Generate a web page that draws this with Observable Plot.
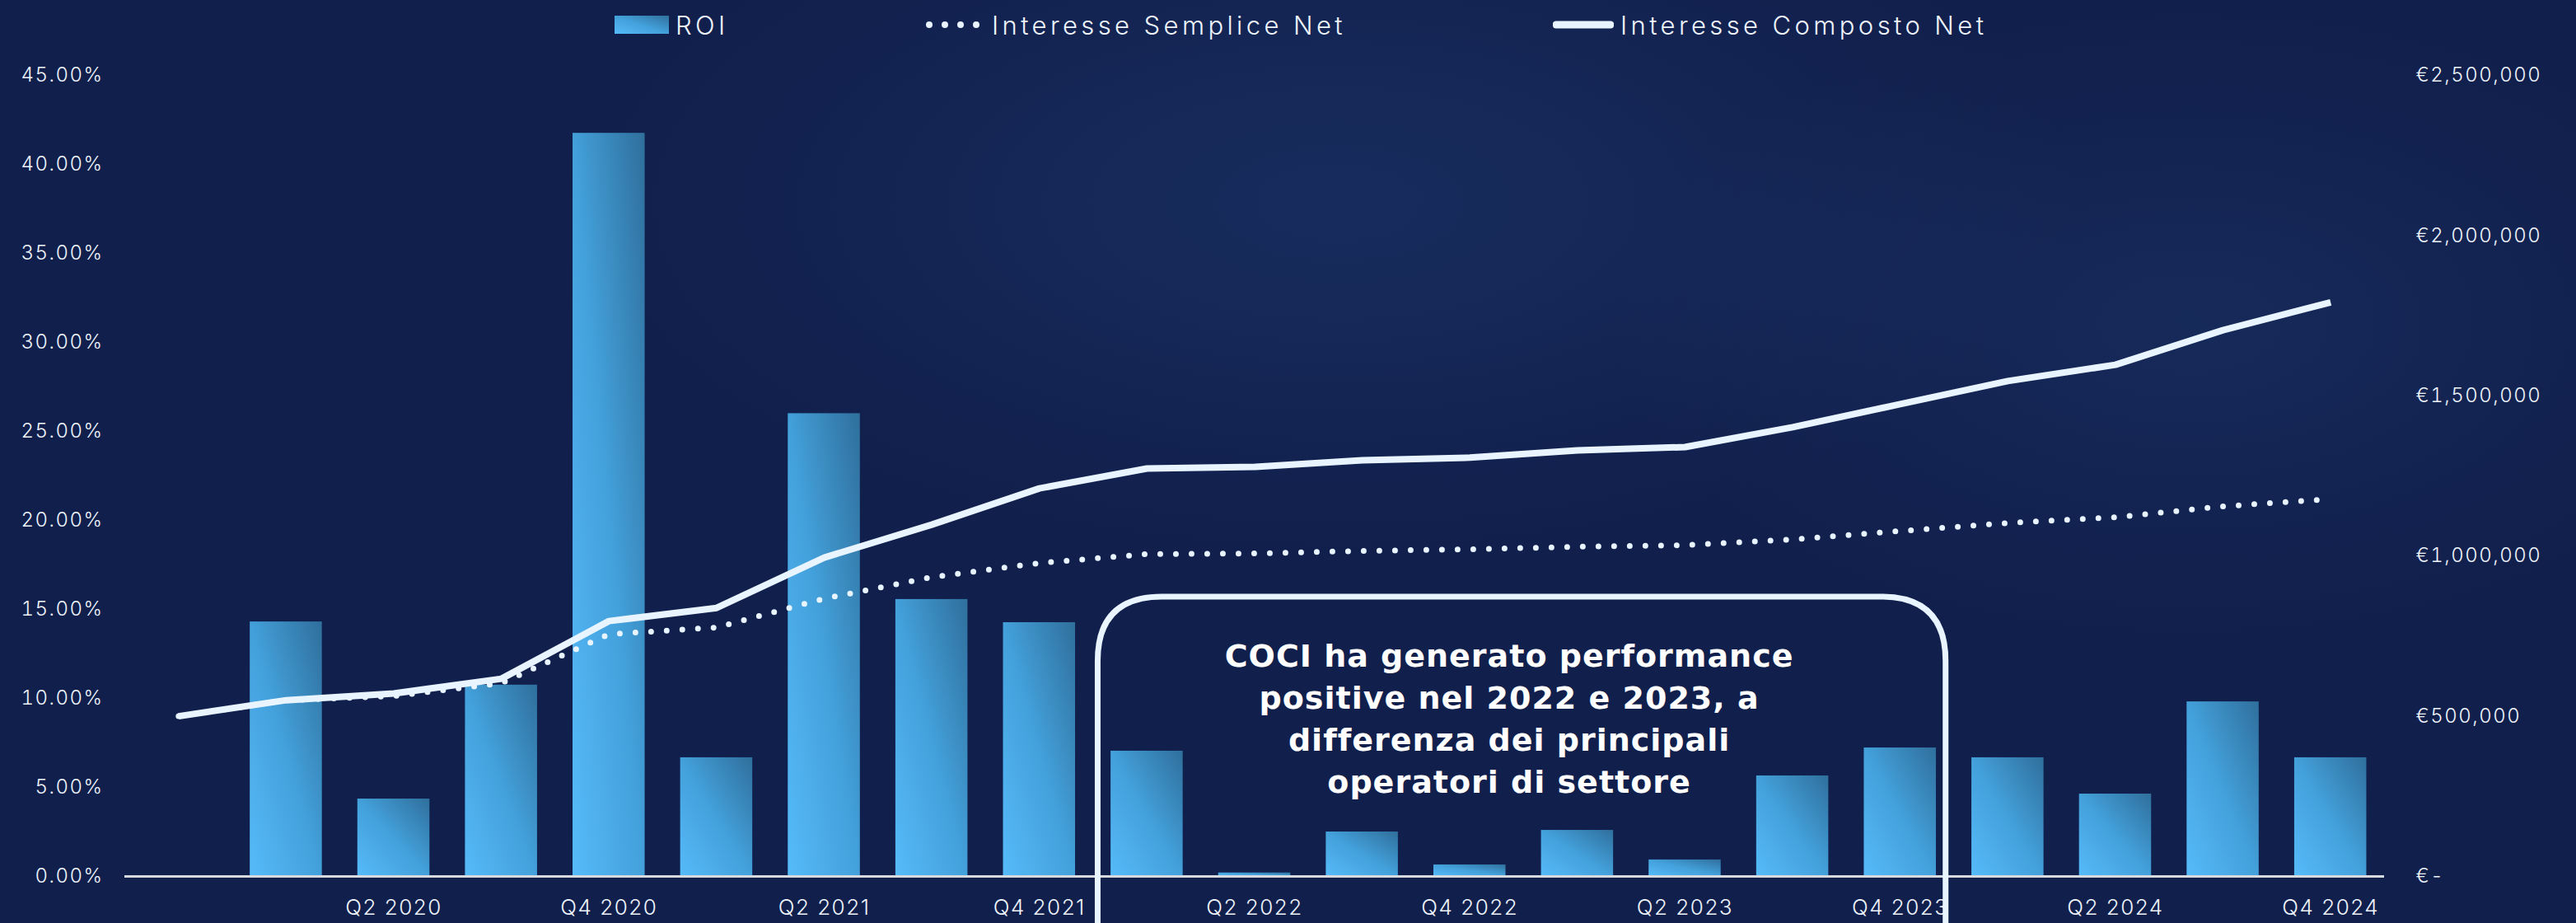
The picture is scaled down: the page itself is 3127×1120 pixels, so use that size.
<!DOCTYPE html>
<html>
<head>
<meta charset="utf-8">
<script src="https://cdn.jsdelivr.net/npm/d3@7"></script>
<script src="https://cdn.jsdelivr.net/npm/@observablehq/plot@0.6"></script>
<style>
  html, body { margin: 0; padding: 0; }
  body {
    width: 3127px; height: 1120px; overflow: hidden; position: relative;
    background:
      radial-gradient(ellipse 900px 420px at 52% 22%, rgba(40,80,140,0.28), rgba(40,80,140,0) 100%),
      radial-gradient(ellipse 700px 380px at 85% 35%, rgba(40,80,140,0.22), rgba(40,80,140,0) 100%),
      #111f4c;
    font-family: Inter, "Open Sans", sans-serif;
    color: #eef4fb;
  }
  #legend { position: absolute; top: 0; left: 0; width: 3127px; height: 60px; }
  .li { position: absolute; top: 0; height: 60px; display: flex; align-items: center; font-size: 31px; font-weight: 300; letter-spacing: 4.4px; white-space: nowrap; }
  .li svg { margin-right: 8px; }
  #chart { position: absolute; top: 60px; left: 0; width: 3127px; }
  #chart svg { max-width: none; }
</style>
</head>
<body>
<svg width="0" height="0" style="position:absolute">
  <defs>
    <linearGradient id="barGrad" x1="0" y1="1" x2="1" y2="0">
      <stop offset="0" stop-color="#56bbfa"/>
      <stop offset="0.5" stop-color="#43a0da"/>
      <stop offset="1" stop-color="#2f6f9c"/>
    </linearGradient>
  </defs>
</svg>
<div id="legend"></div>
<div id="chart"></div>
<script>
// ---- data ----
const quarters = ["Q4 2019","Q1 2020","Q2 2020","Q3 2020","Q4 2020","Q1 2021","Q2 2021","Q3 2021","Q4 2021",
  "Q1 2022","Q2 2022","Q3 2022","Q4 2022","Q1 2023","Q2 2023","Q3 2023","Q4 2023",
  "Q1 2024","Q2 2024","Q3 2024","Q4 2024"];
const roi = [null, 0.1430, 0.0435, 0.1075, 0.4175, 0.0667, 0.2600, 0.1556, 0.1426,
  0.0704, 0.0020, 0.0250, 0.0065, 0.0259, 0.0093, 0.0565, 0.0722,
  0.0667, 0.0463, 0.0981, 0.0667];
const semplice = [500000, 550000, 563000, 603000, 756000, 777000, 867000, 934000, 978000,
  1006000, 1008000, 1016000, 1021000, 1029000, 1034000, 1052000, 1078000,
  1103000, 1121000, 1155000, 1178000];
const composto = [500000, 550000, 571000, 617000, 797000, 838000, 995000, 1098000, 1211000,
  1273000, 1278000, 1299000, 1307000, 1330000, 1340000, 1402000, 1474000,
  1546000, 1597000, 1705000, 1792000];
const roiTicks = [0, 0.05, 0.10, 0.15, 0.20, 0.25, 0.30, 0.35, 0.40, 0.45];
const moneyTicks = [0, 500000, 1000000, 1500000, 2000000, 2500000];
const xTickLabels = ["Q2 2020","Q4 2020","Q2 2021","Q4 2021","Q2 2022","Q4 2022","Q2 2023","Q4 2023","Q2 2024","Q4 2024"];
const seriesNames = ["ROI", "Interesse Semplice Net", "Interesse Composto Net"];
const noteLines = ["COCI ha generato performance", "positive nel 2022 e 2023, a", "differenza dei principali", "operatori di settore"];
const noteSpan = ["Q1 2022", "Q4 2023"];
const noteTop = 0.157;

const roiMax = 0.45, moneyMax = 2500000;
const toY = v => v / moneyMax * roiMax;

const rows = quarters.map((q, i) => ({q, roi: roi[i], semplice: semplice[i], composto: composto[i]}));
const lineColor = "#e8f4ff";

const chart = Plot.plot({
  width: 3127,
  height: 1060,
  marginLeft: 151,
  marginRight: 233,
  marginTop: 31,
  marginBottom: 57,
  style: {background: "transparent", color: "#eef4fb", fontFamily: "Inter, 'Open Sans', sans-serif", fontSize: "24px", fontWeight: 300, overflow: "visible"},
  x: {type: "band", domain: quarters, paddingInner: 0.33, paddingOuter: 0.165, align: 0.5, round: false},
  y: {domain: [0, roiMax]},
  marks: [
    Plot.axisY(roiTicks, {anchor: "left", tickFormat: d3.format(".2%"), tickSize: 0, tickPadding: 26, fontSize: 24, label: null}),
    Plot.axisY(moneyTicks.map(toY), {anchor: "right", tickSize: 0, tickPadding: 38, textAnchor: "start", fontSize: 24, label: null,
      tickFormat: v => { const m = Math.round(v / roiMax * moneyMax); return m === 0 ? "€-" : "€" + d3.format(",")(m); }}),
    Plot.axisX(xTickLabels, {tickSize: 0, tickPadding: 28, fontSize: 26, label: null}),
    Plot.barY(rows.filter(d => d.roi != null), {x: "q", y: "roi", fill: "url(#barGrad)"}),
    Plot.ruleY([0], {stroke: "#d6d9de", strokeWidth: 3}),
    Plot.line(rows, {x: "q", y: d => toY(d.semplice), stroke: lineColor, strokeWidth: 7, strokeDasharray: "0 19", strokeLinecap: "round"}),
    Plot.line(rows, {x: "q", y: d => toY(d.composto), stroke: lineColor, strokeWidth: 8, strokeLinecap: "butt"})
  ]
});
document.getElementById("chart").appendChild(chart);

const svg = d3.select(chart);
// widen axis label spacing (the original uses a wide geometric face)
svg.selectAll("[aria-label='x-axis tick label'] text").style("letter-spacing", "1.5px");
svg.selectAll("[aria-label='y-axis tick label'] text").style("letter-spacing", "1.5px");

// ---- annotation box (positioned through the chart's scales) ----
const xs = chart.scale("x"), ys = chart.scale("y");
const step = xs.apply(quarters[1]) - xs.apply(quarters[0]);
const bw = xs.bandwidth;
const bx0 = xs.apply(noteSpan[0]) - step * 0.12;
const bx1 = xs.apply(noteSpan[1]) + bw + step * 0.09;
const by0 = ys.apply(noteTop);
const by1 = 1060 + 120;
const r = 78;
svg.append("path")
  .attr("d", `M${bx0},${by1} L${bx0},${by0 + r} Q${bx0},${by0} ${bx0 + r},${by0} L${bx1 - r},${by0} Q${bx1},${by0} ${bx1},${by0 + r} L${bx1},${by1}`)
  .attr("fill", "none").attr("stroke", lineColor).attr("stroke-width", 7);
const tx = (bx0 + bx1) / 2 - 15;
svg.append("text")
  .attr("x", tx).attr("y", by0 + 85)
  .attr("text-anchor", "middle").attr("fill", "#ffffff")
  .attr("font-family", "'DejaVu Sans', 'Open Sans', sans-serif").attr("font-weight", 700).attr("font-size", 38)
  .style("letter-spacing", "1px")
  .selectAll("tspan").data(noteLines).join("tspan")
  .attr("x", tx).attr("dy", (d, i) => i === 0 ? 0 : 51).text(d => d);

// ---- legend ----
const legend = d3.select("#legend");
const legendLeft = [746, 1122, 1885];
seriesNames.forEach((name, i) => {
  const item = legend.append("div").attr("class", "li").style("left", legendLeft[i] + "px");
  const s = item.append("svg").attr("width", i === 0 ? 66 : 74).attr("height", 30);
  if (i === 0) {
    s.append("rect").attr("x", 0).attr("y", 4).attr("width", 66).attr("height", 22).attr("fill", "url(#barGrad)");
  } else if (i === 1) {
    s.append("line").attr("x1", 6).attr("x2", 70).attr("y1", 15).attr("y2", 15)
      .attr("stroke", lineColor).attr("stroke-width", 8).attr("stroke-linecap", "round").attr("stroke-dasharray", "0 19");
  } else {
    s.append("line").attr("x1", 4).attr("x2", 70).attr("y1", 15).attr("y2", 15)
      .attr("stroke", lineColor).attr("stroke-width", 9).attr("stroke-linecap", "round");
  }
  item.append("span").text(name);
});
</script>
</body>
</html>
